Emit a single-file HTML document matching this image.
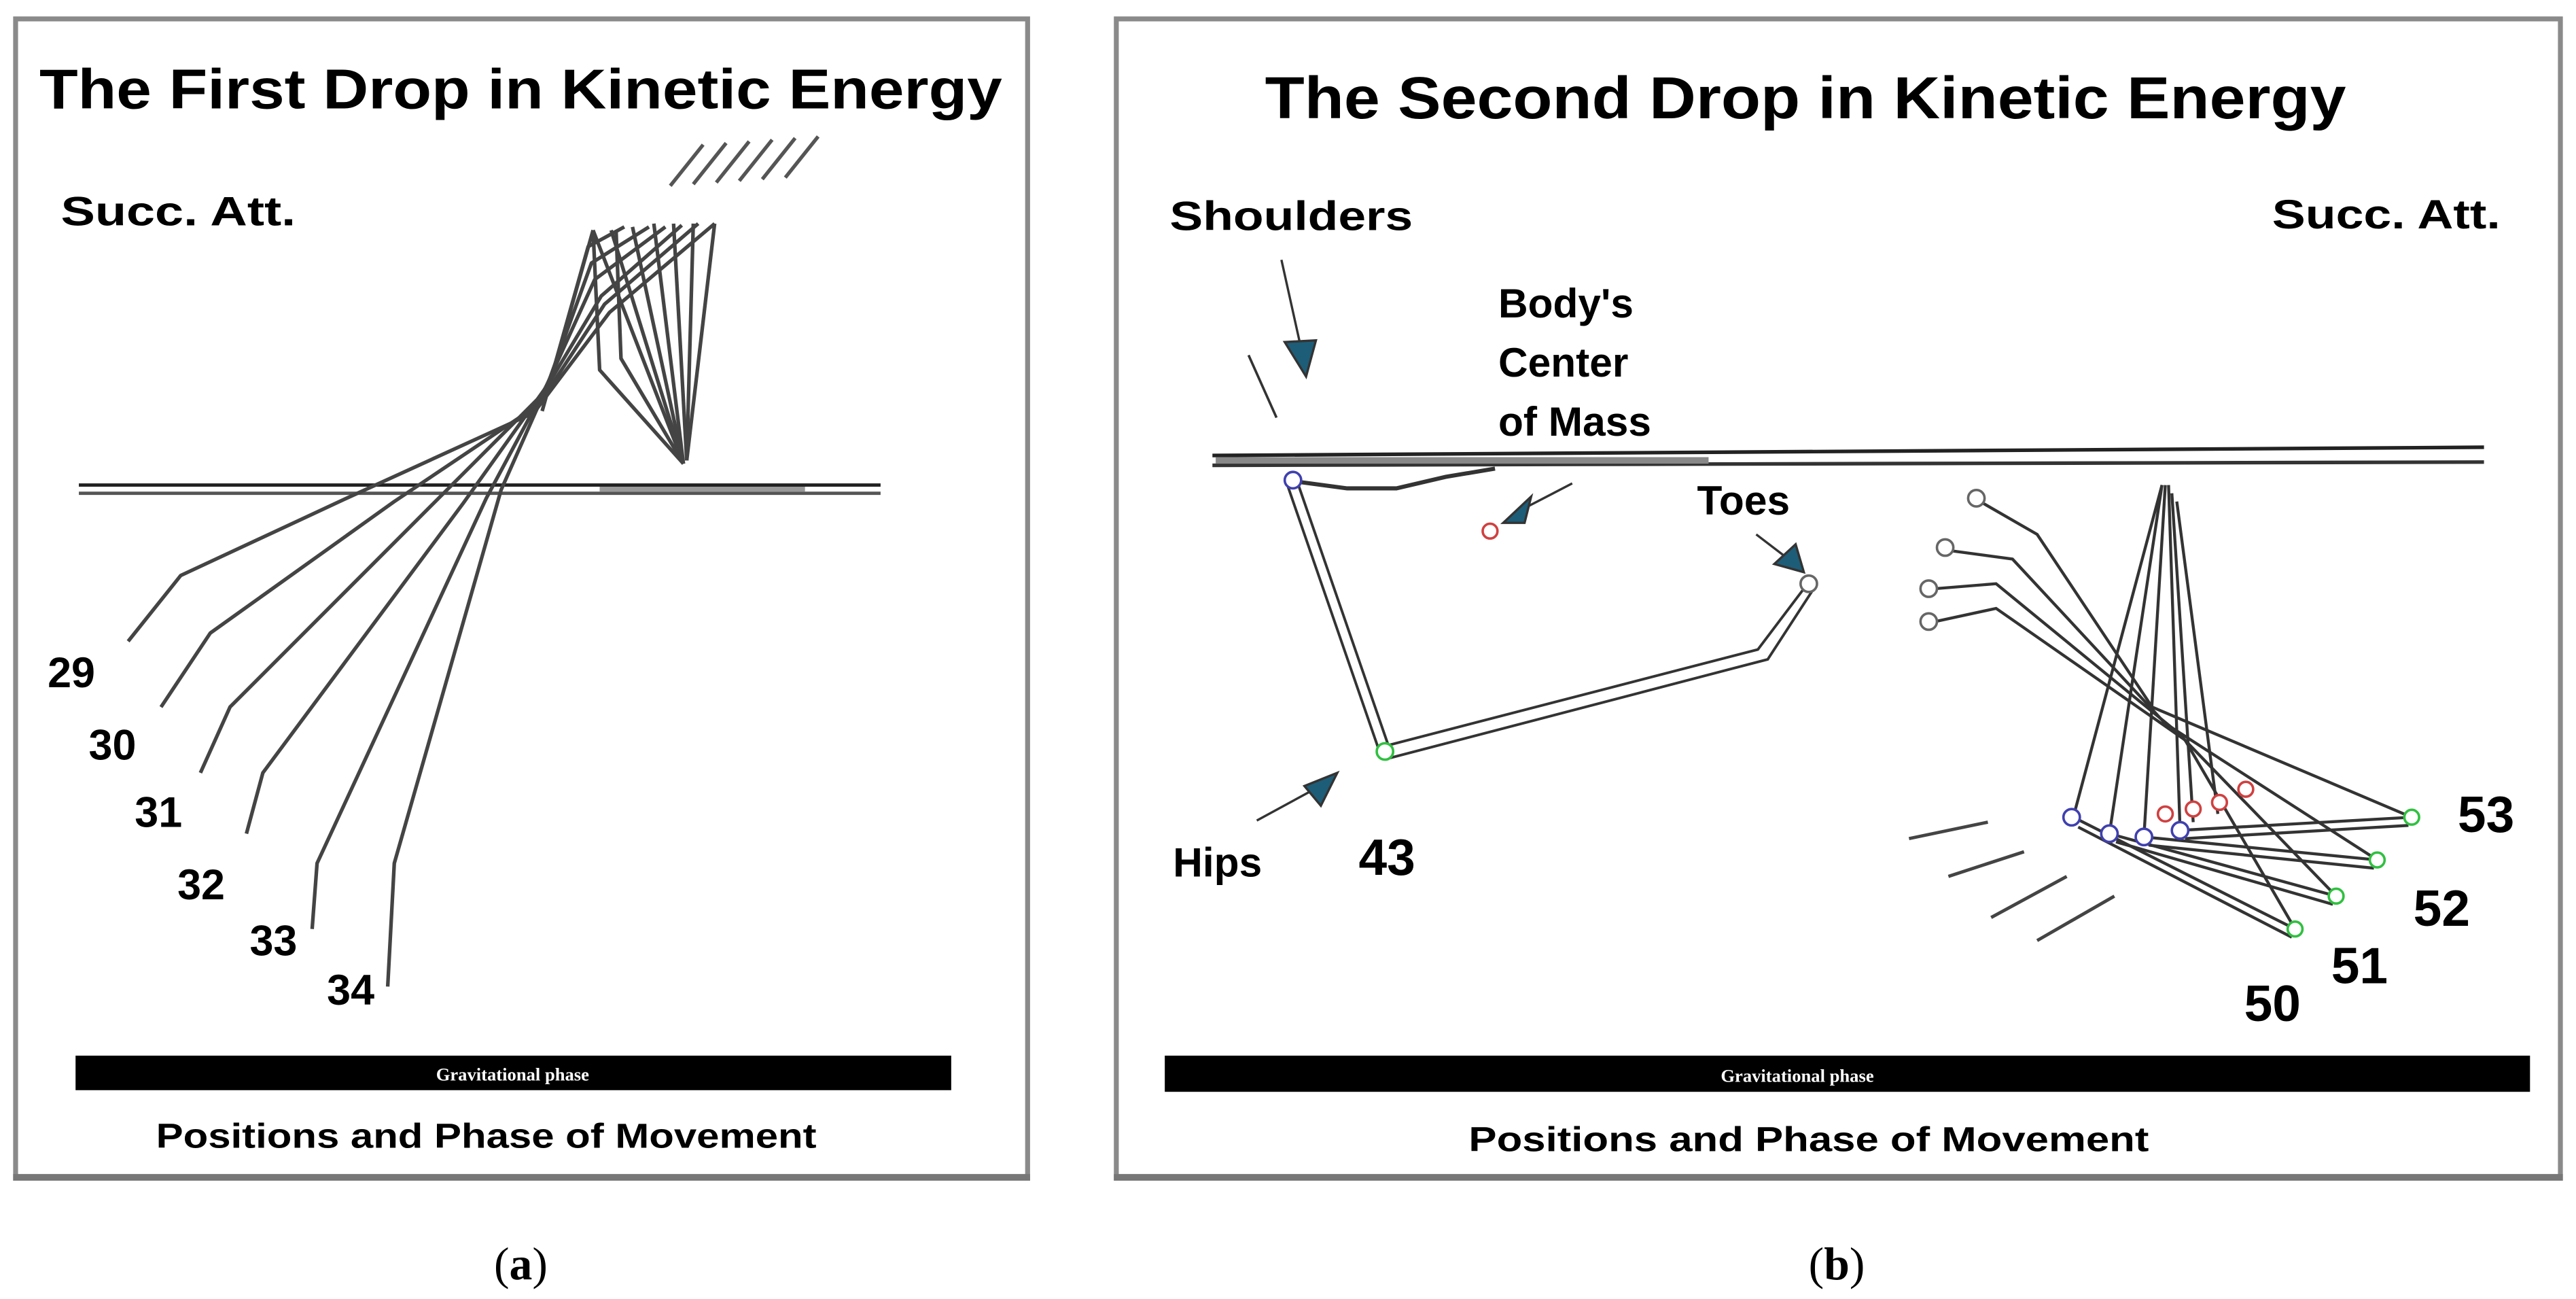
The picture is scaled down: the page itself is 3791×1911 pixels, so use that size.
<!DOCTYPE html>
<html><head><meta charset="utf-8"><style>
html,body{margin:0;padding:0;background:#fff;}
svg{display:block;}
.t{font-family:"Liberation Sans",Arial,sans-serif;font-weight:bold;fill:#000;}
.s{font-family:"Liberation Serif",serif;}
</style></head><body>
<svg width="3791" height="1911" viewBox="0 0 1568 790" preserveAspectRatio="none" xmlns="http://www.w3.org/2000/svg">
<rect width="1568" height="790" fill="#fff"/>
<!-- panel a -->
<rect x="9.5" y="11.5" width="616" height="705" fill="#fff" stroke="#8a8a8a" stroke-width="3"/>
<line x1="8" y1="716" x2="627" y2="716" stroke="#777" stroke-width="4"/>
<text class="t" x="24" y="66" font-size="34" textLength="586" lengthAdjust="spacingAndGlyphs">The First Drop in Kinetic Energy</text>
<text class="t" x="37" y="137" font-size="25" textLength="143" lengthAdjust="spacingAndGlyphs">Succ. Att.</text>
<!-- ground -->
<line x1="48" y1="295" x2="536" y2="295" stroke="#222" stroke-width="2"/>
<line x1="48" y1="300" x2="536" y2="300" stroke="#555" stroke-width="2"/>
<line x1="365" y1="297.5" x2="490" y2="297.5" stroke="#999" stroke-width="3"/>
<!-- fan -->
<g fill="none" stroke="#444" stroke-width="2.2" stroke-linejoin="round">
<polyline points="78,390 110,350 211,303 325,251 371,190 435,136"/>
<polyline points="98,430 128,385 240,305 328,246 368,185 425,136"/>
<polyline points="122,470 140,430 262,308 330,240 366,180 415,137"/>
<polyline points="150,507 160,470 282,306 332,236 362,170 405,138"/>
<polyline points="190,565 193,525 296,303 334,232 360,160 395,138"/>
<polyline points="236,600 240,525 305,298 336,228 358,150 380,138"/>
<polyline points="361,140 330,250"/>
<polyline points="361,140 416,282"/>
<polyline points="372,140 416,282"/>
<polyline points="385,138 416,282"/>
<polyline points="398,136 416,282"/>
<polyline points="410,136 418,280"/>
<polyline points="422,136 418,280"/>
<polyline points="435,136 418,280"/>
<polyline points="361,140 365,225 416,282"/>
<polyline points="375,140 378,218 416,282"/>
</g>
<g stroke="#555" stroke-width="2.2">
<line x1="408" y1="113" x2="428" y2="88"/>
<line x1="422" y1="112" x2="442" y2="87"/>
<line x1="436" y1="111" x2="456" y2="86"/>
<line x1="450" y1="110" x2="470" y2="85"/>
<line x1="464" y1="109" x2="484" y2="84"/>
<line x1="478" y1="108" x2="498" y2="83"/>
</g>
<g class="t" font-size="26">
<text x="29" y="418">29</text><text x="54" y="462">30</text><text x="82" y="503">31</text>
<text x="108" y="547">32</text><text x="152" y="581">33</text><text x="199" y="611">34</text>
</g>
<rect x="46" y="642" width="533" height="21" fill="#000"/>
<text class="s" x="312" y="657" font-size="11" font-weight="bold" fill="#fff" text-anchor="middle">Gravitational phase</text>
<text class="t" x="95" y="698" font-size="21" textLength="402" lengthAdjust="spacingAndGlyphs">Positions and Phase of Movement</text>
<text class="s" x="317" y="778" font-size="28" text-anchor="middle">(<tspan font-weight="bold">a</tspan>)</text>

<!-- panel b -->
<rect x="679.5" y="11.5" width="879" height="705" fill="#fff" stroke="#8a8a8a" stroke-width="3"/>
<line x1="678" y1="716" x2="1560" y2="716" stroke="#777" stroke-width="4"/>
<text class="t" x="770" y="72" font-size="36" textLength="658" lengthAdjust="spacingAndGlyphs">The Second Drop in Kinetic Energy</text>
<text class="t" x="712" y="140" font-size="25" textLength="148" lengthAdjust="spacingAndGlyphs">Shoulders</text>
<text class="t" x="1383" y="139" font-size="25" textLength="139" lengthAdjust="spacingAndGlyphs">Succ. Att.</text>
<g class="t" font-size="25">
<text x="912" y="193">Body's</text><text x="912" y="229">Center</text><text x="912" y="265">of Mass</text>
<text x="1033" y="313">Toes</text><text x="714" y="533">Hips</text>
</g>
<g class="t" font-size="31">
<text x="827" y="532">43</text><text x="1496" y="506">53</text><text x="1469" y="563">52</text>
<text x="1419" y="598">51</text><text x="1366" y="621">50</text>
</g>
<!-- ground b -->
<line x1="738" y1="277" x2="1512" y2="272" stroke="#222" stroke-width="2.2"/>
<line x1="738" y1="283" x2="1512" y2="281" stroke="#333" stroke-width="2.2"/>
<line x1="740" y1="280" x2="1040" y2="280" stroke="#888" stroke-width="4"/>
<!-- figure 43 -->
<g fill="none" stroke="#333" stroke-width="1.6">
<polyline points="784,296 840,458"/><polyline points="790,294 846,456"/>
<polyline points="842,454 1070,395 1098,358"/><polyline points="846,461 1076,401 1104,358"/>
<polyline points="790,293 820,297 850,297 880,290 910,285" stroke-width="2.5"/>
</g>
<circle cx="787" cy="292" r="5" fill="#fff" stroke="#4040b0" stroke-width="1.5"/>
<circle cx="843" cy="457" r="5" fill="#fff" stroke="#30c040" stroke-width="1.5"/>
<circle cx="1101" cy="355" r="5" fill="#fff" stroke="#666" stroke-width="1.5"/>
<circle cx="907" cy="323" r="4.5" fill="none" stroke="#d04040" stroke-width="1.5"/>
<line x1="760" y1="216" x2="777" y2="254" stroke="#333" stroke-width="1.5"/>
<!-- arrows -->
<g stroke="#333" stroke-width="1.4" fill="#1d5d78">
<line x1="780" y1="158" x2="792" y2="212"/><polygon points="782,208 801,207 795,229"/>
<line x1="957" y1="294" x2="930" y2="308"/><polygon points="932,302 928,318 915,318" />
<line x1="1069" y1="325" x2="1086" y2="338"/><polygon points="1080,343 1093,331 1098,348"/>
<line x1="765" y1="499" x2="800" y2="480"/><polygon points="794,478 814,470 804,490"/>
</g>
<!-- right group -->
<g fill="none" stroke="#333" stroke-width="1.8">
<polyline points="1207,306 1240,325 1310,430"/>
<polyline points="1188,335 1225,340 1318,440"/>
<polyline points="1178,358 1215,355 1325,445"/>
<polyline points="1178,378 1215,370 1330,450"/>
<polyline points="1316,295 1262,497"/><polyline points="1316,295 1284,507"/>
<polyline points="1318,295 1305,509"/><polyline points="1320,295 1327,505"/>
<polyline points="1322,300 1335,500"/><polyline points="1325,305 1350,495"/>
<polyline points="1310,430 1468,497"/><polyline points="1318,440 1447,523"/>
<polyline points="1325,445 1422,545"/><polyline points="1330,450 1397,565"/>
<polyline points="1262,497 1397,565"/><polyline points="1284,507 1422,545"/>
<polyline points="1305,509 1447,523"/><polyline points="1327,505 1468,497"/>
<polyline points="1265,503 1395,570"/><polyline points="1288,512 1420,550"/>
<polyline points="1308,514 1445,528"/><polyline points="1330,510 1466,502"/>
</g>
<g fill="#fff" stroke-width="1.5">
<circle cx="1203" cy="303" r="5" stroke="#666"/><circle cx="1184" cy="333" r="5" stroke="#666"/>
<circle cx="1174" cy="358" r="5" stroke="#666"/><circle cx="1174" cy="378" r="5" stroke="#666"/>
<circle cx="1261" cy="497" r="5" stroke="#4040b0"/><circle cx="1284" cy="507" r="5" stroke="#4040b0"/>
<circle cx="1305" cy="509" r="5" stroke="#4040b0"/><circle cx="1327" cy="505" r="5" stroke="#4040b0"/>
<circle cx="1468" cy="497" r="4.5" stroke="#30c040"/><circle cx="1447" cy="523" r="4.5" stroke="#30c040"/>
<circle cx="1422" cy="545" r="4.5" stroke="#30c040"/><circle cx="1397" cy="565" r="4.5" stroke="#30c040"/>
<circle cx="1318" cy="495" r="4.5" stroke="#d04040"/><circle cx="1335" cy="492" r="4.5" stroke="#d04040"/>
<circle cx="1351" cy="488" r="4.5" stroke="#d04040"/><circle cx="1367" cy="480" r="4.5" stroke="#d04040"/>
</g>
<g stroke="#444" stroke-width="2">
<line x1="1162" y1="510" x2="1210" y2="500"/><line x1="1186" y1="533" x2="1232" y2="518"/>
<line x1="1212" y1="558" x2="1258" y2="533"/><line x1="1240" y1="572" x2="1287" y2="545"/>
</g>
<rect x="709" y="642" width="831" height="22" fill="#000"/>
<text class="s" x="1094" y="658" font-size="11" font-weight="bold" fill="#fff" text-anchor="middle">Gravitational phase</text>
<text class="t" x="894" y="700" font-size="21" textLength="414" lengthAdjust="spacingAndGlyphs">Positions and Phase of Movement</text>
<text class="s" x="1118" y="778" font-size="28" text-anchor="middle">(<tspan font-weight="bold">b</tspan>)</text>
</svg>
</body></html>
